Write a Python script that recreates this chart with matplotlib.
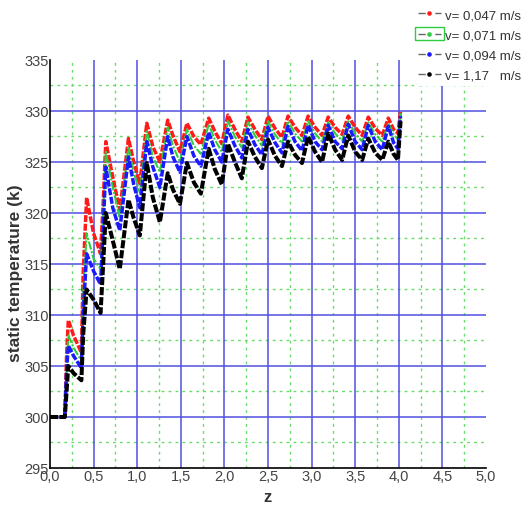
import numpy as np
import matplotlib
matplotlib.use('Agg')
import matplotlib.pyplot as plt
from matplotlib.lines import Line2D
from matplotlib.patches import Rectangle
from matplotlib.ticker import FuncFormatter

plt.rcParams['font.family'] = ['Liberation Sans', 'DejaVu Sans']

# axial position (z) and static temperature (K)
z = [0.00, 0.17, 0.19, 0.21, 0.27, 0.36, 0.38, 0.42, 0.50, 0.58, 0.61, 0.64, 0.72, 0.80,
     0.90, 0.96, 1.03, 1.11, 1.18, 1.26, 1.35, 1.41, 1.49, 1.57, 1.65, 1.73, 1.82, 1.89,
     1.97, 2.04, 2.12, 2.20, 2.27, 2.35, 2.43, 2.50, 2.58, 2.66, 2.73, 2.81, 2.89, 2.96,
     3.04, 3.12, 3.19, 3.27, 3.35, 3.42, 3.50, 3.58, 3.65, 3.73, 3.81, 3.88, 3.94, 3.99, 4.02]

t_047 = [300, 300, 306, 309.5, 308.0, 306.3, 314, 321.5, 318.0, 316.0, 321, 327.0, 323.5, 320.3,
         327.3, 325.0, 322.9, 328.8, 326.5, 325.0, 329.1, 327.6, 326.0, 328.8, 327.5, 326.7, 329.3, 328.0,
         326.8, 329.6, 328.2, 327.0, 329.4, 328.2, 327.2, 329.5, 328.3, 327.4, 329.5, 328.4, 327.6, 329.5,
         328.4, 327.6, 329.4, 328.4, 327.7, 329.5, 328.4, 327.6, 329.4, 328.3, 327.6, 329.3, 328.2, 327.8, 330.0]

t_071 = [300, 300, 305, 308.0, 306.8, 305.5, 312, 318.0, 315.5, 314.5, 320, 326.0, 322.5, 319.5,
         326.5, 324.0, 322.0, 328.0, 325.5, 324.0, 328.4, 326.6, 325.0, 328.2, 326.6, 325.8, 328.7, 327.2,
         326.0, 329.0, 327.5, 326.4, 328.9, 327.6, 326.6, 329.0, 327.7, 326.8, 329.0, 327.8, 327.0, 329.0,
         327.8, 327.0, 328.9, 327.8, 327.1, 329.0, 327.8, 327.0, 328.9, 327.7, 327.0, 328.8, 327.7, 327.2, 329.8]

t_094 = [300, 300, 304.5, 307.0, 306.0, 304.8, 310, 316.0, 314.3, 313.0, 318.5, 324.5, 320.5, 318.3,
         325.5, 322.8, 320.5, 327.0, 324.5, 322.5, 327.5, 325.5, 324.0, 327.5, 325.6, 324.6, 327.9, 326.2,
         325.0, 328.2, 326.6, 325.4, 328.2, 326.7, 325.7, 328.4, 326.9, 325.9, 328.5, 327.0, 326.1, 328.6,
         327.0, 326.2, 328.6, 327.0, 326.3, 328.7, 327.0, 326.2, 328.6, 327.0, 326.2, 328.5, 326.9, 326.3, 329.5]

t_117 = [300, 300, 302.5, 305.0, 304.3, 303.6, 308, 312.5, 311.5, 310.2, 315, 320.0, 317.3, 314.5,
         321.3, 319.5, 317.8, 324.9, 321.5, 319.1, 323.9, 322.3, 320.9, 324.9, 323.0, 321.9, 326.3, 324.3,
         322.8, 326.8, 325.0, 323.4, 327.0, 325.5, 324.4, 327.2, 325.6, 324.6, 327.0, 325.7, 324.9, 327.5,
         326.0, 325.0, 327.8, 326.2, 325.2, 327.6, 326.0, 325.2, 327.3, 325.9, 325.2, 327.0, 325.8, 325.2, 329.0]

labels = ['v= 0,047 m/s', 'v= 0,071 m/s', 'v= 0,094 m/s', 'v= 1,17   m/s']
colors = ['#ff1a1a', '#2ecc40', '#1a1aff', '#000000']
series = [t_047, t_071, t_094, t_117]

x_major = [0.5, 1.0, 1.5, 2.0, 2.5, 3.0, 3.5, 4.0, 4.5]
x_minor = [0.25, 0.75, 1.25, 1.75, 2.25, 2.75, 3.25, 3.75, 4.25, 4.75]
y_major = [300, 305, 310, 315, 320, 325, 330]
y_minor = [297.5, 302.5, 307.5, 312.5, 317.5, 322.5, 327.5, 332.5]

fig = plt.figure(figsize=(5.28, 5.10), dpi=100)
ax = fig.add_axes([50/528, 41/510, 436/528, 408/510])

# grid, drawn by hand so there is no line on the top/right edges
for xv in x_minor:
    ax.axvline(xv, color='#66dd66', lw=1.0, ls=(0, (2, 3)), zorder=1)
for yv in y_minor:
    ax.axhline(yv, color='#66dd66', lw=1.0, ls=(0, (2, 3)), zorder=1)
for xv in x_major:
    ax.axvline(xv, color='#5050e0', lw=1.1, zorder=1)
for yv in y_major:
    ax.axhline(yv, color='#5050e0', lw=1.1, zorder=1)

styles = [dict(lw=2.5, ls=(0, (2, 0.5))),
          dict(lw=1.5, ls=(0, (4, 0.8, 1, 0.8))),
          dict(lw=2.5, ls=(0, (2, 0.5))),
          dict(lw=2.9, ls=(0, (2, 0.5)))]
for s, c, st in zip(series, colors, styles):
    ax.plot(z, s, color=c, zorder=3, **st)

ax.set_xlim(0, 5.0)
ax.set_ylim(295, 335)
ax.set_xticks(np.arange(0, 5.01, 0.5))
ax.set_yticks(np.arange(295, 335.1, 5))
ax.xaxis.set_major_formatter(FuncFormatter(lambda v, p: ('%.1f' % v).replace('.', ',')))
ax.yaxis.set_major_formatter(FuncFormatter(lambda v, p: '%d' % v))
ax.tick_params(length=0, pad=1, labelsize=10.5, labelcolor='#444444')
ax.spines['top'].set_visible(False)
ax.spines['right'].set_visible(False)
ax.spines['left'].set_linewidth(1.2)
ax.spines['bottom'].set_linewidth(1.2)

ax.set_xlabel('z', fontsize=12, fontweight='bold', color='#333333', labelpad=4)
ax.set_ylabel('static temperature (k)', fontsize=12.5, fontweight='bold', color='#333333')
ax.yaxis.set_label_coords(-0.062, 0.48)

handles = [Line2D([0], [0], color='#666666', lw=1.0, ls=(0, (5.2, 6.9)),
                  marker='o', ms=2.3, mfc=c, mec=c) for c in colors]
leg = fig.legend(handles, labels, loc='upper right', bbox_to_anchor=(1.0, 0.995),
                 fontsize=9.5, handlelength=1.8, handletextpad=0.25, labelspacing=0.6,
                 frameon=True, framealpha=1, facecolor='white', edgecolor='none',
                 borderaxespad=0.2, borderpad=0.35)
for t in leg.get_texts():
    t.set_color('#333333')

# green selection box around the second legend key
fig.canvas.draw()
bb = leg.legend_handles[1].get_window_extent()
cy = (bb.y0 + bb.y1) / 2
fig.patches.append(Rectangle((bb.x0 - 1, cy - 6.5), bb.width + 2, 13,
                             transform=None, fill=False,
                             edgecolor='#2ecc40', lw=1.0, zorder=10))

fig.savefig('out.png', dpi=100)
